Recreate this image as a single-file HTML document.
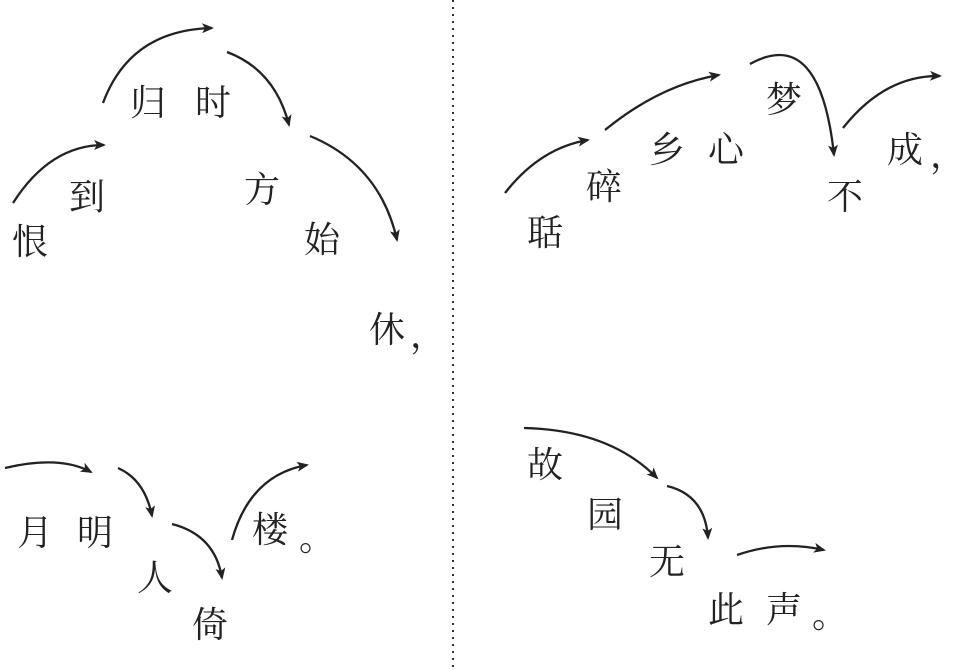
<!DOCTYPE html>
<html><head><meta charset="utf-8"><style>
html,body{margin:0;padding:0;background:#fff;}
svg{display:block}
text{font-family:"Liberation Serif","Noto Serif CJK SC","AR PL UKai CN",serif;font-size:36px;fill:#222;text-anchor:middle;dominant-baseline:central}
path{fill:none;stroke:#222;stroke-width:2.3}
</style></head><body>
<svg width="963" height="670" viewBox="0 0 963 670">
<defs><marker id="a" markerWidth="12" markerHeight="10" refX="10" refY="5" orient="auto" markerUnits="userSpaceOnUse"><path d="M0,0 L12,5 L0,10 L3,5 Z" style="fill:#222;stroke:none"/></marker></defs>
<line x1="453" y1="0" x2="453" y2="670" stroke="#333" stroke-width="2" stroke-dasharray="2,5"/>
<!-- top left -->
<text x="30" y="242">恨</text><text x="87" y="197">到</text>
<text x="148" y="103">归</text><text x="213" y="103">时</text>
<text x="262" y="190">方</text><text x="322" y="240">始</text>
<text x="387" y="330">休</text><text x="428" y="335">，</text>
<path d="M13,203 Q50,145 104,145" marker-end="url(#a)"/>
<path d="M103,103 Q130,30 212,28" marker-end="url(#a)"/>
<path d="M227,52 Q275,70 289,125" marker-end="url(#a)"/>
<path d="M310,136 Q380,165 397,240" marker-end="url(#a)"/>
<!-- top right -->
<text x="545" y="233">聒</text><text x="604" y="187">碎</text>
<text x="667" y="150">乡</text><text x="726" y="150">心</text>
<text x="784" y="100">梦</text><text x="845" y="197">不</text>
<text x="905" y="150">成</text><text x="948" y="155">，</text>
<path d="M505,193 Q540,148 588,140" marker-end="url(#a)"/>
<path d="M605,130 Q660,85 719,75" marker-end="url(#a)"/>
<path d="M750,64 Q820,25 834,155" marker-end="url(#a)"/>
<path d="M843,128 Q885,75 940,76" marker-end="url(#a)"/>
<!-- bottom left -->
<text x="35" y="533">月</text><text x="95" y="533">明</text>
<text x="155" y="578">人</text><text x="210" y="625">倚</text>
<text x="270" y="530">楼</text><text x="317" y="538">。</text>
<path d="M5,468 Q60,455 91,472" marker-end="url(#a)"/>
<path d="M118,468 Q145,480 152,516" marker-end="url(#a)"/>
<path d="M172,524 Q215,535 222,578" marker-end="url(#a)"/>
<path d="M232,540 Q250,475 307,465" marker-end="url(#a)"/>
<!-- bottom right -->
<text x="545" y="465">故</text><text x="605" y="515">园</text>
<text x="667" y="562">无</text><text x="726" y="610">此</text>
<text x="784" y="610">声</text><text x="830" y="615">。</text>
<path d="M524,428 Q610,430 657,478" marker-end="url(#a)"/>
<path d="M667,486 Q705,495 708,538" marker-end="url(#a)"/>
<path d="M737,555 Q780,540 824,550" marker-end="url(#a)"/>
</svg>
</body></html>
